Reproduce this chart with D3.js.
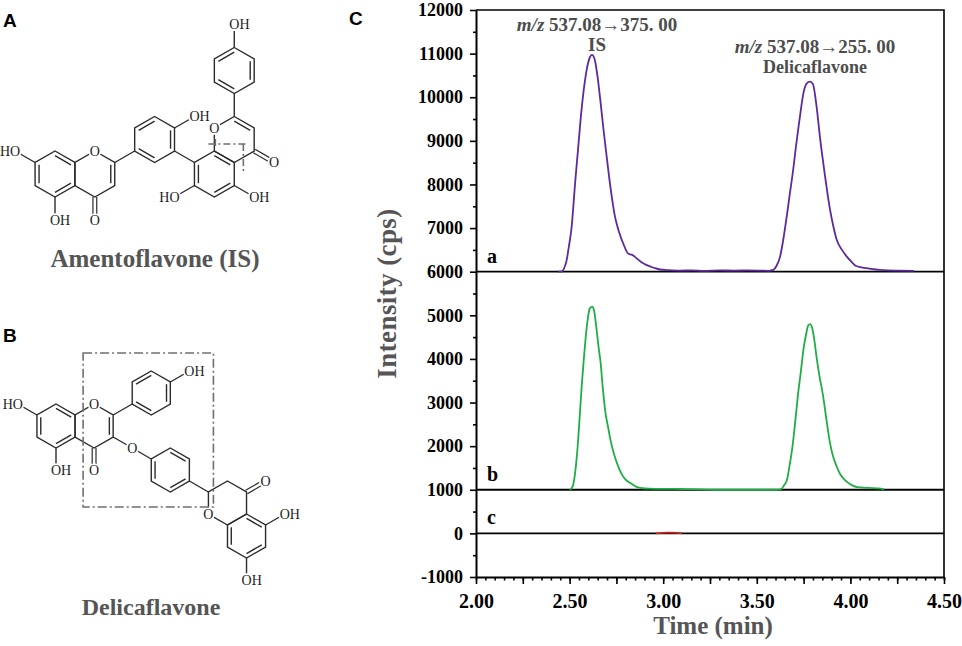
<!DOCTYPE html>
<html>
<head>
<meta charset="utf-8">
<script src="https://cdn.jsdelivr.net/npm/d3@7"></script>
<style>
body { margin: 0; background: #fff; }
svg { display: block; }
</style>
</head>
<body>
<div id="figure"></div>
<script>
// ---- chromatogram values ----
const timeA = [
    2.440, 2.458, 2.472, 2.484, 2.497, 2.511, 2.520, 2.529, 2.545, 2.560,
    2.575, 2.590, 2.605, 2.620, 2.635, 2.650, 2.665, 2.680, 2.695, 2.716,
    2.743, 2.765, 2.787, 2.814, 2.832, 2.849, 2.880, 2.912, 2.950, 2.983,
    3.030, 3.090, 3.150, 3.220, 3.300, 3.380, 3.450, 3.520, 3.565, 3.588,
    3.605, 3.624, 3.642, 3.660, 3.677, 3.695, 3.708, 3.722, 3.735, 3.748,
    3.767, 3.784, 3.800, 3.820, 3.838, 3.864, 3.891, 3.910, 3.927, 3.955,
    3.980, 4.005, 4.030, 4.060, 4.087, 4.120, 4.158, 4.200, 4.260, 4.340
];
const intensityA = [
    6000, 6005, 6090, 6260, 6600, 7030, 7500, 8010, 8800, 9550,
    10150, 10600, 10880, 10970, 10850, 10450, 9900, 9300, 8750, 8010,
    7250, 6900, 6640, 6410, 6390, 6340, 6230, 6150, 6090, 6050,
    6035, 6025, 6030, 6020, 6030, 6025, 6030, 6025, 6020, 6040,
    6130, 6340, 6750, 7270, 7800, 8360, 8830, 9290, 9700, 10070,
    10320, 10360, 10300, 9760, 9060, 8210, 7430, 7020, 6730, 6500,
    6350, 6230, 6130, 6100, 6080, 6060, 6040, 6030, 6025, 6020
];

const timeB = [
    2.500, 2.515, 2.525, 2.535, 2.545, 2.555, 2.565, 2.575, 2.585, 2.595,
    2.607, 2.620, 2.630, 2.642, 2.654, 2.666, 2.678, 2.692, 2.705, 2.718,
    2.732, 2.748, 2.763, 2.778, 2.798, 2.819, 2.840, 2.860, 2.890, 2.930,
    2.980, 3.050, 3.120, 3.200, 3.300, 3.450, 3.600, 3.630, 3.645, 3.660,
    3.675, 3.690, 3.705, 3.720, 3.735, 3.750, 3.765, 3.775, 3.785, 3.795,
    3.805, 3.820, 3.835, 3.853, 3.873, 3.890, 3.904, 3.925, 3.945, 3.965,
    3.985, 4.010, 4.036, 4.080, 4.118, 4.150, 4.180
];
const intensityB = [
    1000, 1060, 1250, 1600, 2100, 2750, 3400, 3950, 4450, 4850,
    5150, 5200, 5120, 4750, 4300, 3900, 3300, 2750, 2450, 2150,
    1900, 1670, 1500, 1360, 1240, 1170, 1110, 1060, 1035, 1025,
    1020, 1020, 1015, 1010, 1000, 1000, 1000, 1015, 1100, 1210,
    1550, 1970, 2550, 3180, 3700, 4240, 4600, 4770, 4800, 4720,
    4500, 4020, 3600, 3180, 2580, 2100, 1820, 1550, 1360, 1250,
    1170, 1100, 1060, 1045, 1040, 1030, 1010
];

const timeC = [2.96, 2.99, 3.02, 3.05, 3.08, 3.10];
const intensityC = [0, 12, 18, 18, 12, 0];

const traceNames = ["a", "b", "c"];
const traceColors = ["#5b2a9e", "#1fae45", "#c62a1e"];
const baselines = [6000, 1000, 0];

const yTickValues = [-1000, 0, 1000, 2000, 3000, 4000, 5000, 6000, 7000, 8000, 9000, 10000, 11000, 12000];
const xTickValues = [2.00, 2.50, 3.00, 3.50, 4.00, 4.50];
const xTickLabels = ["2.00", "2.50", "3.00", "3.50", "4.00", "4.50"];

const peakNotes = [
    { time: 2.62, transition: " 537.08\u2192375. 00", name: "IS", row: 0 },
    { time: 3.784, transition: " 537.08\u2192255. 00", name: "Delicaflavone", row: 1 }
];

const SERIF = "'Liberation Serif', 'Times New Roman', serif";
const SANS = "'Liberation Sans', Arial, sans-serif";

const svg = d3.select("#figure").append("svg")
    .attr("width", 962)
    .attr("height", 646);


class ChromatogramVis {
    constructor(svg) {
        this.svg = svg;
        this.traces = [
            { name: "a", time: timeA, intensity: intensityA },
            { name: "b", time: timeB, intensity: intensityB },
            { name: "c", time: timeC, intensity: intensityC }
        ];
        this.initVis();
    }

    initVis() {
        let vis = this;

        vis.margin = { top: 10, right: 18, bottom: 69, left: 476 };
        vis.width = 962 - vis.margin.left - vis.margin.right;
        vis.height = 646 - vis.margin.top - vis.margin.bottom;

        vis.g = vis.svg.append("g")
            .attr("transform", `translate(${vis.margin.left}, ${vis.margin.top})`);

        vis.x = d3.scaleLinear().domain([2, 4.5]).range([0, vis.width]);
        vis.y = d3.scaleLinear().domain([-1000, 12000]).range([vis.height, 0]);

        // minor ticks
        let xMinor = d3.range(0, 51).map(i => 2 + i * 0.05);
        let xQuarter = [2.25, 2.75, 3.25, 3.75, 4.25];
        let yMinor = yTickValues.slice(0, -1).map(d => d + 500);

        vis.g.append("g").attr("class", "x-minor")
            .attr("transform", `translate(0, ${vis.height})`)
            .call(d3.axisBottom(vis.x).tickValues(xMinor).tickSize(3.5).tickFormat(""));
        vis.g.append("g").attr("class", "x-quarter")
            .attr("transform", `translate(0, ${vis.height})`)
            .call(d3.axisBottom(vis.x).tickValues(xQuarter).tickSize(7).tickFormat(""));
        vis.g.append("g").attr("class", "x-axis")
            .attr("transform", `translate(0, ${vis.height})`)
            .call(d3.axisBottom(vis.x).tickValues(xTickValues).tickSize(7).tickSizeOuter(0)
                .tickFormat((d, i) => xTickLabels[i]));

        vis.g.append("g").attr("class", "y-minor")
            .call(d3.axisLeft(vis.y).tickValues(yMinor).tickSize(3).tickFormat(""));
        vis.g.append("g").attr("class", "y-axis")
            .call(d3.axisLeft(vis.y).tickValues(yTickValues).tickSize(6).tickSizeOuter(0)
                .tickPadding(7).tickFormat(d => String(d)));

        vis.g.selectAll(".x-minor .domain, .x-quarter .domain, .y-minor .domain").remove();
        vis.g.selectAll(".domain").attr("stroke", "#000").attr("stroke-width", 2);
        vis.g.selectAll(".tick line").attr("stroke", "#000").attr("stroke-width", 1.6);

        vis.g.selectAll(".x-axis text")
            .attr("y", 31).attr("dy", 0)
            .attr("font-family", SERIF).attr("font-weight", "bold")
            .attr("font-size", 20).attr("fill", "#000");
        vis.g.selectAll(".y-axis text")
            .attr("font-family", SERIF).attr("font-weight", "bold")
            .attr("font-size", 18).attr("fill", "#000");

        // frame: top and right
        vis.g.append("path")
            .attr("d", `M0,0H${vis.width}V${vis.height}`)
            .attr("fill", "none").attr("stroke", "#000").attr("stroke-width", 1.6);

        // axis titles
        vis.svg.append("text")
            .attr("transform", `translate(396, ${vis.margin.top + vis.height / 2}) rotate(-90)`)
            .attr("text-anchor", "middle")
            .attr("font-family", SERIF).attr("font-weight", "bold")
            .attr("font-size", 27).attr("letter-spacing", 0.4)
            .attr("fill", "#555")
            .text("Intensity (cps)");

        vis.svg.append("text")
            .attr("x", vis.margin.left + vis.width / 2 + 3)
            .attr("y", 634)
            .attr("text-anchor", "middle")
            .attr("font-family", SERIF).attr("font-weight", "bold")
            .attr("font-size", 25)
            .attr("fill", "#555")
            .text("Time (min)");

        vis.line = d3.line()
            .x((d) => vis.x(d[0]))
            .y((d) => vis.y(d[1]))
            .curve(d3.curveMonotoneX);

        vis.updateVis();
    }

    updateVis() {
        let vis = this;

        // offset baselines of the stacked traces
        vis.g.selectAll(".baseline").data(baselines).enter()
            .append("line")
            .attr("class", "baseline")
            .attr("x1", 0).attr("x2", vis.width)
            .attr("y1", d => vis.y(d)).attr("y2", d => vis.y(d))
            .attr("stroke", "#000").attr("stroke-width", 1.8);

        vis.g.selectAll(".trace").data(vis.traces).enter()
            .append("path")
            .attr("class", "trace")
            .attr("d", d => vis.line(d.time.map((t, i) => [t, d.intensity[i]])))
            .attr("fill", "none")
            .attr("stroke", (d, i) => traceColors[i])
            .attr("stroke-width", (d, i) => i === 2 ? 1.6 : 1.8)
            .attr("stroke-linejoin", "round");

        vis.g.selectAll(".trace-label").data(traceNames).enter()
            .append("text")
            .attr("class", "trace-label")
            .attr("x", 11)
            .attr("y", (d, i) => vis.y(baselines[i]) - 9)
            .attr("font-family", SERIF).attr("font-weight", "bold")
            .attr("font-size", 20).attr("fill", "#000")
            .text(d => d);

        let notes = vis.g.selectAll(".peak-note").data(peakNotes).enter()
            .append("g")
            .attr("class", "peak-note")
            .attr("transform", d => `translate(${vis.x(d.time) + 5}, ${21 + d.row * 22})`)
            .attr("font-family", SERIF).attr("font-weight", "bold")
            .attr("font-size", 19).attr("fill", "#4d4d4d")
            .attr("text-anchor", "middle");

        let first = notes.append("text");
        first.append("tspan").attr("font-style", "italic").text("m/z");
        first.append("tspan").text(d => d.transition);

        notes.append("text")
            .attr("y", 20)
            .attr("font-size", d => d.row === 0 ? 19 : 18)
            .text(d => d.name);
    }
}

new ChromatogramVis(svg);


// ---- chemical structures (A, B) ----
function hexVerts(c, r) {
    return d3.range(6).map(i => {
        let a = (-90 + 60 * i) * Math.PI / 180;
        return [c[0] + r * Math.cos(a), c[1] + r * Math.sin(a)];
    });
}

function drawStructure(g, rings, bonds, doubles, atoms) {
    rings.forEach(ring => {
        let v = hexVerts(ring.c, ring.r);
        g.append("path")
            .attr("d", d3.line()(v) + "Z")
            .attr("fill", "none").attr("stroke", "#2b2b2b").attr("stroke-width", 1.4);
        (ring.inner || []).forEach(i => {
            let p = v[i], q = v[(i + 1) % 6];
            let s = 0.2;
            g.append("line")
                .attr("x1", p[0] + (ring.c[0] - p[0]) * s).attr("y1", p[1] + (ring.c[1] - p[1]) * s)
                .attr("x2", q[0] + (ring.c[0] - q[0]) * s).attr("y2", q[1] + (ring.c[1] - q[1]) * s)
                .attr("stroke", "#2b2b2b").attr("stroke-width", 1.4);
        });
    });
    bonds.forEach(b => {
        g.append("line")
            .attr("x1", b[0][0]).attr("y1", b[0][1]).attr("x2", b[1][0]).attr("y2", b[1][1])
            .attr("stroke", "#2b2b2b").attr("stroke-width", 1.4);
    });
    doubles.forEach(b => {
        let dx = b[1][0] - b[0][0], dy = b[1][1] - b[0][1];
        let len = Math.hypot(dx, dy);
        let nx = -dy / len * 1.9, ny = dx / len * 1.9;
        [-1, 1].forEach(sg => {
            g.append("line")
                .attr("x1", b[0][0] + sg * nx).attr("y1", b[0][1] + sg * ny)
                .attr("x2", b[1][0] + sg * nx).attr("y2", b[1][1] + sg * ny)
                .attr("stroke", "#2b2b2b").attr("stroke-width", 1.2);
        });
    });
    atoms.forEach(a => {
        // white knock-out behind the heteroatom so bonds stop at the label
        g.append("circle")
            .attr("cx", a.p[0]).attr("cy", a.p[1])
            .attr("r", 6.5).attr("fill", "#fff");
        let dx = a.label === "HO" ? 5 : a.label === "OH" ? -5 : 0;
        g.append("text")
            .attr("x", a.p[0] + dx).attr("y", a.p[1] + 4.8)
            .attr("text-anchor", a.label === "HO" ? "end" : a.label === "OH" ? "start" : "middle")
            .attr("font-family", SERIF).attr("font-size", 14)
            .attr("fill", "#1e1e1e")
            .attr("stroke", "#fff").attr("stroke-width", 3)
            .attr("paint-order", "stroke")
            .text(a.label);
    });
}

const add = (p, dx, dy) => [p[0] + dx, p[1] + dy];

// Amentoflavone
(function () {
    let r = 23, k = r * Math.sqrt(3) / 2, h = r / 2;
    let a1 = [55, 174];
    let c1 = [a1[0] + 2 * k, a1[1]];
    let b1 = [c1[0] + 3 * k, c1[1] - 3 * h];
    let a2 = [b1[0] + 3 * k, b1[1] + 3 * h];
    let c2 = [a2[0] + k, a2[1] - 3 * h];
    let d1 = [c2[0], c2[1] - 3 * r];
    let V = c => hexVerts(c, r);

    let g = svg.append("g").attr("class", "amentoflavone");
    let rings = [
        { c: a1, r, inner: [0, 2, 4] },
        { c: c1, r, inner: [1] },
        { c: b1, r, inner: [5, 1, 3] },
        { c: a2, r, inner: [0, 2, 4] },
        { c: c2, r, inner: [0] },
        { c: d1, r, inner: [1, 3, 5] }
    ];
    let bonds = [
        [V(a1)[5], add(V(a1)[5], -k, -h)],
        [V(a1)[3], add(V(a1)[3], 0, r)],
        [V(c1)[1], V(b1)[4]],
        [V(b1)[1], add(V(b1)[1], k, -h)],
        [V(b1)[2], V(a2)[5]],
        [V(a2)[2], add(V(a2)[2], k, h)],
        [V(a2)[4], add(V(a2)[4], -k, h)],
        [V(c2)[0], V(d1)[3]],
        [V(d1)[0], add(V(d1)[0], 0, -r)]
    ];
    let doubles = [
        [V(c1)[3], add(V(c1)[3], 0, r * 0.85)],
        [V(c2)[2], add(V(c2)[2], k * 0.85, h * 0.85)]
    ];
    let atoms = [
        { label: "HO", p: add(V(a1)[5], -k, -h) },
        { label: "OH", p: add(V(a1)[3], 0, r) },
        { label: "O", p: V(c1)[0] },
        { label: "O", p: add(V(c1)[3], 0, r) },
        { label: "OH", p: add(V(b1)[1], k, -h) },
        { label: "OH", p: add(V(a2)[2], k, h) },
        { label: "HO", p: add(V(a2)[4], -k, h) },
        { label: "O", p: V(c2)[5] },
        { label: "O", p: add(V(c2)[2], k, h) },
        { label: "OH", p: add(V(d1)[0], 0, -r) }
    ];
    drawStructure(g, rings, bonds, doubles, atoms);

    // cleavage mark
    let o1 = V(c2)[5];
    g.append("path")
        .attr("d", `M${o1[0] - 6},${o1[1] + 16}H${o1[0] + 31}M${o1[0] + 29},${o1[1] + 16}V${o1[1] + 46}M${o1[0] + 1},${o1[1] + 11}V${o1[1] + 21}`)
        .attr("fill", "none").attr("stroke", "#6f6f6f").attr("stroke-width", 1.6)
        .attr("stroke-dasharray", "7,3,2,3");

    g.append("text")
        .attr("x", 155).attr("y", 267)
        .attr("text-anchor", "middle")
        .attr("font-family", SERIF).attr("font-weight", "bold")
        .attr("font-size", 25).attr("fill", "#555")
        .text("Amentoflavone (IS)");
})();

// Delicaflavone
(function () {
    let r = 22, k = r * Math.sqrt(3) / 2, h = r / 2;
    let a1 = [56, 426];
    let c1 = [a1[0] + 2 * k, a1[1]];
    let p1 = [c1[0] + 3 * k, c1[1] - 3 * h];
    let V = c => hexVerts(c, r);
    let oe = add(V(c1)[2], k, h);
    let p2 = add(oe, 2 * k, 2 * h);
    let rr = add(p2, 3 * k, 3 * h);
    let a2 = add(rr, k, 3 * h);

    let g = svg.append("g").attr("class", "delicaflavone");
    let rings = [
        { c: a1, r, inner: [0, 2, 4] },
        { c: c1, r, inner: [1] },
        { c: p1, r, inner: [5, 1, 3] },
        { c: p2, r, inner: [0, 2, 4] },
        { c: rr, r, inner: [] },
        { c: a2, r, inner: [0, 2, 4] }
    ];
    let bonds = [
        [V(a1)[5], add(V(a1)[5], -k, -h)],
        [V(a1)[3], add(V(a1)[3], 0, r)],
        [V(c1)[1], V(p1)[4]],
        [V(p1)[1], add(V(p1)[1], k, -h)],
        [V(c1)[2], oe],
        [oe, V(p2)[5]],
        [V(p2)[2], V(rr)[5]],
        [V(a2)[1], add(V(a2)[1], k, -h)],
        [V(a2)[3], add(V(a2)[3], 0, r)]
    ];
    let doubles = [
        [V(c1)[3], add(V(c1)[3], 0, r * 0.85)],
        [V(rr)[1], add(V(rr)[1], k * 0.85, -h * 0.85)]
    ];
    let atoms = [
        { label: "HO", p: add(V(a1)[5], -k, -h) },
        { label: "OH", p: add(V(a1)[3], 0, r) },
        { label: "O", p: V(c1)[0] },
        { label: "O", p: add(V(c1)[3], 0, r) },
        { label: "OH", p: add(V(p1)[1], k, -h) },
        { label: "O", p: oe },
        { label: "O", p: add(V(rr)[1], k, -h) },
        { label: "O", p: V(rr)[4] },
        { label: "OH", p: add(V(a2)[1], k, -h) },
        { label: "OH", p: add(V(a2)[3], 0, r) }
    ];
    drawStructure(g, rings, bonds, doubles, atoms);

    // dash-dot box around the flavonol B-ring part
    let left = c1[0] - 11, top = p1[1] - 40;
    let right = V(rr)[5][0] + 5, bottom = V(p2)[3][1] + 15;
    g.append("rect")
        .attr("x", left).attr("y", top)
        .attr("width", right - left).attr("height", bottom - top)
        .attr("fill", "none").attr("stroke", "#6f6f6f").attr("stroke-width", 1.6)
        .attr("stroke-dasharray", "9,3,2,3");

    g.append("text")
        .attr("x", 151).attr("y", 615)
        .attr("text-anchor", "middle")
        .attr("font-family", SERIF).attr("font-weight", "bold")
        .attr("font-size", 24).attr("fill", "#555")
        .text("Delicaflavone");
})();

// panel letters
svg.selectAll(".panel-letter")
    .data([["A", 3, 27], ["B", 3, 342], ["C", 349, 25]])
    .enter().append("text")
    .attr("class", "panel-letter")
    .attr("x", d => d[1]).attr("y", d => d[2])
    .attr("font-family", SANS).attr("font-weight", "bold")
    .attr("font-size", 19).attr("fill", "#000")
    .text(d => d[0]);
</script>
</body>
</html>
